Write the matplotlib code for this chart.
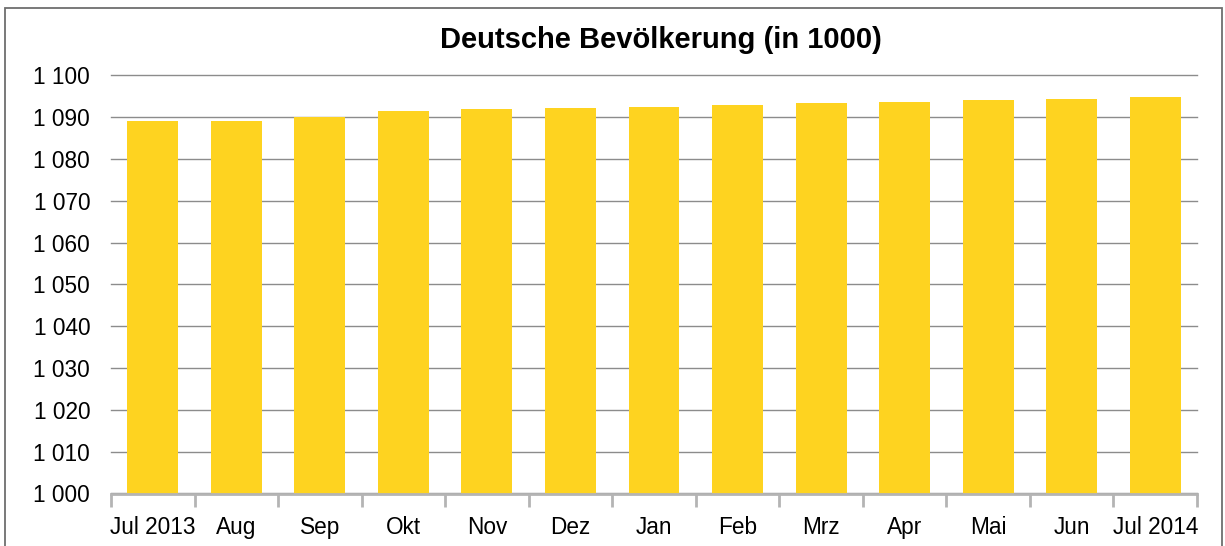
import matplotlib
matplotlib.use("Agg")
import matplotlib.pyplot as plt
from matplotlib.patches import Rectangle
from matplotlib.ticker import FuncFormatter, MultipleLocator

categories = ["Jul 2013", "Aug", "Sep", "Okt", "Nov", "Dez", "Jan", "Feb", "Mrz", "Apr", "Mai", "Jun", "Jul 2014"]
values = [1089.0, 1089.0, 1090.0, 1091.4, 1091.9, 1092.2, 1092.4, 1092.9, 1093.4, 1093.6, 1094.1, 1094.3, 1094.8]
title = "Deutsche Bevölkerung (in 1000)"

plt.rcParams['font.family'] = ['Liberation Sans', 'DejaVu Sans']

W, H = 1225, 546
fig = plt.figure(figsize=(W / 100, H / 100), dpi=100)
ax = fig.add_axes([111 / W, 1 - 493.5 / H, (1197 - 111) / W, (493.5 - 75.5) / H])

# outer border
fig.patches.append(Rectangle((5 / W, -0.05), (1222 - 5) / W, 1 - 8 / H + 0.05,
                             transform=fig.transFigure, fill=False,
                             edgecolor='#6e6e6e', linewidth=1.3))

x = list(range(len(categories)))
ax.bar(x, values, width=0.61, color='#FED320', zorder=3)
ax.set_xlim(-0.5, len(categories) - 0.5)
ax.set_ylim(1000, 1100)
ax.yaxis.set_major_locator(MultipleLocator(10))
ax.yaxis.set_major_formatter(FuncFormatter(lambda v, p: f"{int(round(v)):,}".replace(",", " ")))

ax.grid(axis='y', color='#8c8c8c', linewidth=1.0, zorder=1)
for gl in ax.get_ygridlines():
    gl.set_clip_on(False)
for s in ['top', 'right', 'left']:
    ax.spines[s].set_visible(False)
ax.spines['bottom'].set_color('#b4b4b4')
ax.spines['bottom'].set_linewidth(2.0)
ax.spines['bottom'].set_zorder(4)

ax.set_xticks([i - 0.5 for i in range(len(categories) + 1)], minor=False)
ax.set_xticklabels([])
ax.set_xticks(x, minor=True)
ax.set_xticklabels(categories, minor=True, fontsize=16.3)
ax.tick_params(axis='x', which='major', length=9, width=2.0, color='#b4b4b4', direction='out')
ax.tick_params(axis='x', which='minor', length=0, pad=16)
ax.tick_params(axis='y', length=0, labelsize=16.3, pad=15)

fig.text(0.5 * (111 + 1197) / W + 0.006, 1 - 40 / H, title, ha='center', va='center',
         fontsize=21, fontweight='bold')

fig.savefig("out.png", dpi=100)
